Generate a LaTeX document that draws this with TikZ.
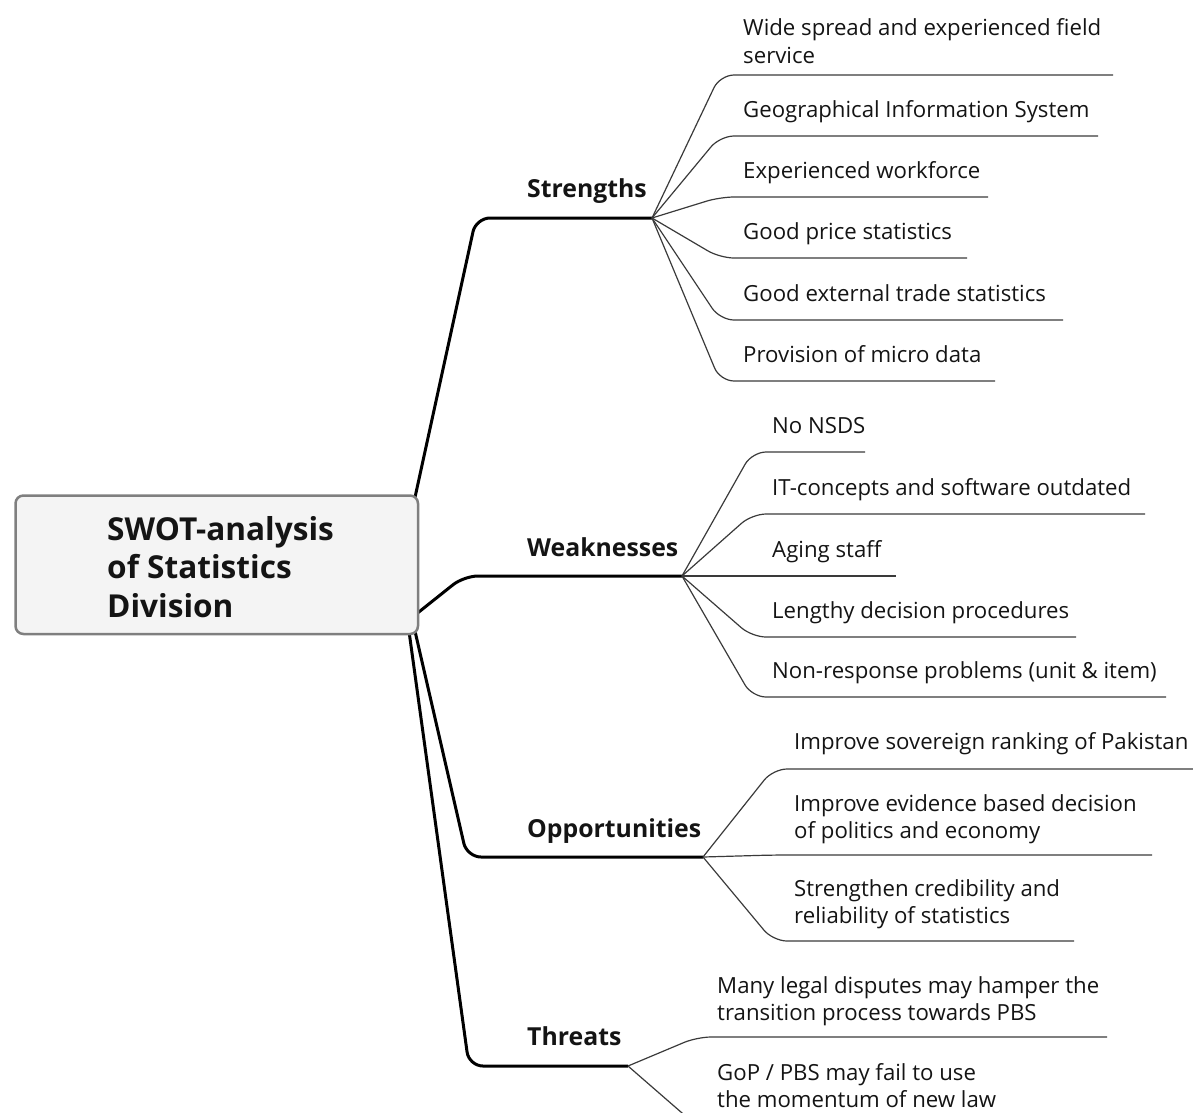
\documentclass[tikz,border=0pt]{standalone}
\usepackage{fontspec}
\setmainfont{Open Sans}
\definecolor{boxgray}{HTML}{7F7F7F}
\definecolor{boxfill}{HTML}{F4F4F4}
\definecolor{linegray}{HTML}{3A3A3A}
\definecolor{txt}{HTML}{141414}
\newcommand\myitemfont{\fontsize{22.2}{27}\selectfont}
\newcommand\myheadfont{\fontsize{24.8}{27}\selectfont\bfseries}
\newcommand\myrootfont{\fontsize{31.6}{38.5}\selectfont\bfseries}
\tikzset{
  rootbox/.style={draw=boxgray, line width=2.5pt, fill=boxfill, rounded corners=8pt,
    minimum width=402.5pt, minimum height=138.5pt, inner sep=0pt, anchor=north west},
  roottext/.style={anchor=base west, inner sep=0pt, font=\myrootfont, text=txt},
  headtext/.style={anchor=base west, inner sep=0pt, font=\myheadfont, text=txt},
  itemtext/.style={anchor=base west, inner sep=0pt, font=\myitemfont, text=txt},
  mainline/.style={line width=3pt, draw=black, rounded corners=14pt},
  subline/.style={line width=1.2pt, draw=linegray, rounded corners=14pt},
}
\begin{document}
\begin{tikzpicture}[x=1pt,y=-1pt]
\useasboundingbox (0,0) rectangle (1193,1112);
\clip (0,0) rectangle (1193,1112);
% hubs and corners
\coordinate (hub) at (400,566);
\coordinate (hubW) at (400,627);
\coordinate (sC) at (476,218); \coordinate (sH) at (652,218);
\coordinate (wC) at (464,576); \coordinate (wH) at (682,576);
\coordinate (oC) at (467,857); \coordinate (oH) at (703,857);
\coordinate (tC) at (469,1066); \coordinate (tH) at (628,1066);
% main branches
\draw[mainline] (hub) -- (sC) -- (sH);
\draw[mainline] (hubW) -- (wC) -- (wH);
\draw[mainline] (hub) -- (oC) -- (oH);
\draw[mainline] (hub) -- (tC) -- (tH);
% root
\node[rootbox] (root) at (14.25,494.25) {};
\node[roottext] (roottxt) at (107,540) {\begin{tabular}[t]{@{}l@{}}SWOT-analysis\\of Statistics\\Division\end{tabular}};
% headings
\node[headtext] (S) at (527,197) {Strengths};
\node[headtext] (W) at (527,556) {Weaknesses};
\node[headtext] (O) at (527,837) {Opportunities};
\node[headtext] (T) at (527,1045) {Threats};
% Strengths items
\foreach \n/\y/\e in {1/75/1113, 2/136/1098, 3/197/988, 4/258/967, 5/320/1063, 6/381/995}{
  \coordinate (s\n a) at (720,\y); \coordinate (s\n b) at (\e,\y);
  \draw[subline] (sH) -- (s\n a) -- (s\n b);
}
\node[itemtext] (s1) at (743,35) {\begin{tabular}[t]{@{}l@{}}Wide spread and experienced field\\[1pt]service\end{tabular}};
\node[itemtext] (s2) at (743,117) {Geographical Information System};
\node[itemtext] (s3) at (743,178) {Experienced workforce};
\node[itemtext] (s4) at (743,239) {Good price statistics};
\node[itemtext] (s5) at (743,301) {Good external trade statistics};
\node[itemtext] (s6) at (743,362) {Provision of micro data};
% Weaknesses items
\foreach \n/\y/\e in {1/452/865, 2/514/1145, 3/576/896, 4/637/1076, 5/697/1166}{
  \coordinate (w\n a) at (752,\y); \coordinate (w\n b) at (\e,\y);
  \draw[subline] (wH) -- (w\n a) -- (w\n b);
}
\node[itemtext] (w1) at (772,433) {No NSDS};
\node[itemtext] (w2) at (772,495) {IT-concepts and software outdated};
\node[itemtext] (w3) at (772,557) {Aging staff};
\node[itemtext] (w4) at (772,618) {Lengthy decision procedures};
\node[itemtext] (w5) at (772,678) {Non-response problems (unit \& item)};
% Opportunities items
\foreach \n/\y/\e in {1/769/1193, 2/855/1152, 3/941/1074}{
  \coordinate (o\n a) at (773,\y); \coordinate (o\n b) at (\e,\y);
  \draw[subline] (oH) -- (o\n a) -- (o\n b);
}
\node[itemtext] (o1) at (794,749) {Improve sovereign ranking of Pakistan};
\node[itemtext] (o2) at (794,811) {\begin{tabular}[t]{@{}l@{}}Improve evidence based decision\\of politics and economy\end{tabular}};
\node[itemtext] (o3) at (794,896) {\begin{tabular}[t]{@{}l@{}}Strengthen credibility and\\reliability of statistics\end{tabular}};
% Threats items
\foreach \n/\y/\e in {1/1037/1107, 2/1126/1000}{
  \coordinate (t\n a) at (697,\y); \coordinate (t\n b) at (\e,\y);
  \draw[subline] (tH) -- (t\n a) -- (t\n b);
}
\node[itemtext] (t1) at (717,993) {\begin{tabular}[t]{@{}l@{}}Many legal disputes may hamper the\\transition process towards PBS\end{tabular}};
\node[itemtext] (t2) at (717,1080) {\begin{tabular}[t]{@{}l@{}}GoP / PBS may fail to use\\the momentum of new law\end{tabular}};
\end{tikzpicture}
\end{document}
